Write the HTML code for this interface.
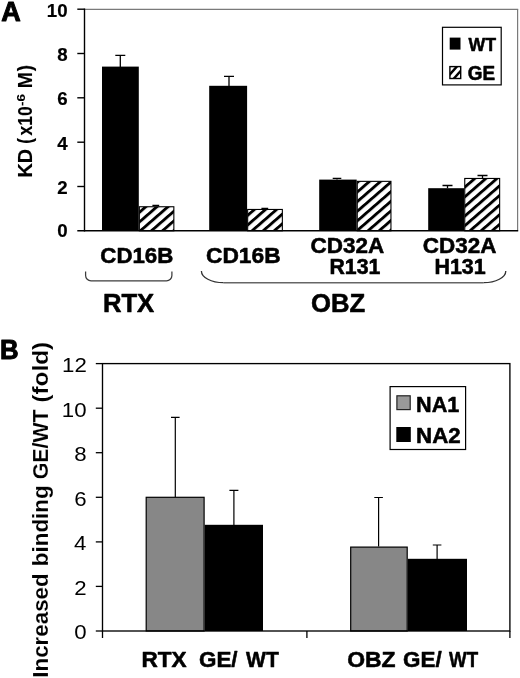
<!DOCTYPE html>
<html>
<head>
<meta charset="utf-8">
<title>Figure</title>
<style>
html,body{margin:0;padding:0;background:#fff;}
body{width:520px;height:678px;overflow:hidden;}
svg{display:block;will-change:transform;}
text{font-family:"Liberation Sans",sans-serif;fill:#000;}
.b{font-weight:bold;stroke:#000;stroke-width:0.55px;stroke-linejoin:round;}
</style>
</head>
<body>
<svg width="520" height="678" viewBox="0 0 520 678">
<rect x="0" y="0" width="520" height="678" fill="#fff"/>

<!-- Panel A -->
<text class="b" style="stroke-width:1px" font-size="27.97" transform="translate(1.22 20.90) scale(0.966 1)" xml:space="preserve">A</text>
<line x1="84.4" y1="9.3" x2="518.2" y2="9.3" stroke="#7a7a7a" stroke-width="1.2"/>
<line x1="517.6" y1="9.3" x2="517.6" y2="230.8" stroke="#7a7a7a" stroke-width="1.2"/>
<rect x="102" y="66.6" width="36.8" height="164.2" fill="#000"/>
<rect x="209.2" y="85.8" width="37.9" height="145.0" fill="#000"/>
<rect x="319.2" y="179.6" width="37.5" height="51.2" fill="#000"/>
<rect x="428.2" y="188.2" width="36.0" height="42.6" fill="#000"/>
<pattern id="h0" patternUnits="userSpaceOnUse" width="20" height="7.268" patternTransform="translate(138.56 211.22) rotate(-41)"><rect width="20" height="7.268" fill="#fff"/><rect width="20" height="2.868" fill="#000"/></pattern>
<rect x="139.35" y="206.75" width="34.50" height="24.05" fill="url(#h0)" stroke="#000" stroke-width="1.1"/>
<pattern id="h1" patternUnits="userSpaceOnUse" width="20" height="7.268" patternTransform="translate(246.96 214.12) rotate(-41)"><rect width="20" height="7.268" fill="#fff"/><rect width="20" height="2.868" fill="#000"/></pattern>
<rect x="247.65" y="209.45" width="34.70" height="21.35" fill="url(#h1)" stroke="#000" stroke-width="1.1"/>
<pattern id="h2" patternUnits="userSpaceOnUse" width="20" height="7.268" patternTransform="translate(356.26 191.02) rotate(-41)"><rect width="20" height="7.268" fill="#fff"/><rect width="20" height="2.868" fill="#000"/></pattern>
<rect x="357.25" y="181.35" width="33.70" height="49.45" fill="url(#h2)" stroke="#000" stroke-width="1.1"/>
<pattern id="h3" patternUnits="userSpaceOnUse" width="20" height="7.268" patternTransform="translate(463.76 186.22) rotate(-41)"><rect width="20" height="7.268" fill="#fff"/><rect width="20" height="2.868" fill="#000"/></pattern>
<rect x="464.75" y="178.45" width="34.90" height="52.35" fill="url(#h3)" stroke="#000" stroke-width="1.1"/>
<g stroke="#000" stroke-width="1.3" fill="none">
<path d="M120.3 67V55.3M115.3 55.3H125.3"/>
<path d="M229 86V76.3M224 76.3H234"/>
<path d="M155.8 206.3V205.5M152.4 205.5H159.20000000000002"/>
<path d="M264.8 209.4V208.3M261.40000000000003 208.3H268.2"/>
<path d="M337 179.6V178.3M332.7 178.3H341.3"/>
<path d="M447.5 188.2V185.5M442.5 185.5H452.5"/>
<path d="M482.5 178.2V175.5M477.5 175.5H487.5"/>
</g>
<line x1="84.5" y1="8.5" x2="84.5" y2="231.5" stroke="#000" stroke-width="1.4"/>
<line x1="77.3" y1="230.8" x2="518.2" y2="230.8" stroke="#000" stroke-width="1.4"/>
<g stroke="#000" stroke-width="1.4">
<line x1="77.3" y1="9.2" x2="84.5" y2="9.2"/>
<line x1="77.3" y1="53.5" x2="84.5" y2="53.5"/>
<line x1="77.3" y1="97.8" x2="84.5" y2="97.8"/>
<line x1="77.3" y1="142.2" x2="84.5" y2="142.2"/>
<line x1="77.3" y1="186.5" x2="84.5" y2="186.5"/>
</g>
<g class="b" font-size="18.7" text-anchor="end" style="stroke-width:0.2px">
<text x="67.6" y="16.7">10</text>
<text x="67.6" y="61.0">8</text>
<text x="67.6" y="105.3">6</text>
<text x="67.6" y="149.7">4</text>
<text x="67.6" y="194.0">2</text>
<text x="67.6" y="237.2">0</text>
</g>
<text class="b" style="stroke-width:0.1px" font-size="19.40" transform="translate(31.50 177.49) rotate(-90) scale(1.023 1.0)" xml:space="preserve">KD</text>
<text class="b" style="stroke-width:0.1px" font-size="19.40" transform="translate(31.50 143.76) rotate(-90) scale(0.884 1.0)" xml:space="preserve">(</text>
<text class="b" style="stroke-width:0.1px" font-size="19.40" transform="translate(31.50 135.48) rotate(-90) scale(0.903 1.0)" xml:space="preserve">x10</text>
<text class="b" style="stroke-width:0.1px" font-size="19.40" transform="translate(31.50 88.26) rotate(-90) scale(1.001 1.0)" xml:space="preserve">M</text>
<text class="b" style="stroke-width:0.1px" font-size="19.40" transform="translate(31.50 71.19) rotate(-90) scale(0.976 1.0)" xml:space="preserve">)</text>
<text class="b" style="stroke-width:0.1px" font-size="11.20" transform="translate(24.50 105.93) rotate(-90) scale(1.183 1.0)" xml:space="preserve">-6</text>
<rect x="442.5" y="27.3" width="58.7" height="57.6" fill="#fff" stroke="#000" stroke-width="1.2"/>
<rect x="449.7" y="37.6" width="10.8" height="12" fill="#000"/>
<clipPath id="sw"><rect x="449.9" y="66.6" width="10.8" height="11.9"/></clipPath>
<rect x="449.9" y="66.6" width="10.8" height="11.9" fill="#fff"/>
<g clip-path="url(#sw)" stroke="#000" stroke-width="2.4"><line x1="447.4" y1="77.2" x2="458.8" y2="64.4"/><line x1="451.8" y1="80.9" x2="463.2" y2="68.1"/></g>
<rect x="449.9" y="66.6" width="10.8" height="11.9" fill="none" stroke="#000" stroke-width="1.4"/>
<text class="b" font-size="18.84" transform="translate(468.50 50.60) scale(0.941 1)" xml:space="preserve">WT</text>
<text class="b" font-size="19.58" transform="translate(467.74 80.10) scale(0.966 1)" xml:space="preserve">GE</text>
<text class="b" font-size="22.11" transform="translate(100.31 262.88) scale(1.008 1)" xml:space="preserve">CD16B</text>
<text class="b" font-size="22.25" transform="translate(205.99 262.98) scale(1.024 1)" xml:space="preserve">CD16B</text>
<text class="b" font-size="21.69" transform="translate(310.60 252.88) scale(1.037 1)" xml:space="preserve">CD32A</text>
<text class="b" font-size="21.41" transform="translate(329.42 273.89) scale(0.995 1)" xml:space="preserve">R131</text>
<text class="b" font-size="21.97" transform="translate(422.80 252.88) scale(1.022 1)" xml:space="preserve">CD32A</text>
<text class="b" font-size="21.55" transform="translate(434.40 273.88) scale(0.997 1)" xml:space="preserve">H131</text>
<text class="b" font-size="25.65" transform="translate(102.93 311.60) scale(1.000 1)" xml:space="preserve">RTX</text>
<text class="b" font-size="26.06" transform="translate(310.97 311.54) scale(0.986 1)" xml:space="preserve">OBZ</text>
<g stroke="#3c3c3c" stroke-width="1.25" fill="none">
<path d="M85.6 271.4V275.4A5.4 5.4 0 0 0 91 280.8H166.5A5.4 5.4 0 0 0 171.9 275.4V271.4"/>
</g>
<g fill="none">
<path d="M223.5 282.7H483.6" stroke="#666" stroke-width="1.5"/>
<path d="M201.4 271A22.1 11.7 0 0 0 223.5 282.7M483.6 282.7A22.2 11.7 0 0 0 505.8 271" stroke="#333" stroke-width="1.3"/>
</g>
<!-- Panel B -->
<text class="b" style="stroke-width:1px" font-size="27.25" transform="translate(-0.07 359.00) scale(0.945 1)" xml:space="preserve">B</text>
<rect x="146.2" y="497.3" width="57.9" height="133.7" fill="#878787" stroke="#000" stroke-width="1.2"/>
<rect x="350.70000000000005" y="547.1" width="56.5" height="83.9" fill="#878787" stroke="#000" stroke-width="1.2"/>
<rect x="204.7" y="524.8" width="58.3" height="106.2" fill="#000"/>
<rect x="407.8" y="558.8" width="59.2" height="72.2" fill="#000"/>
<g stroke="#000" stroke-width="1.2" fill="none">
<path d="M175.3 497V417.3M171.0 417.3H179.60000000000002"/>
<path d="M233.9 525V490.3M229.4 490.3H238.4"/>
<path d="M378.6 546.5V497.5M374.3 497.5H382.90000000000003"/>
<path d="M437.1 559V545M432.8 545H441.40000000000003"/>
</g>
<rect x="102.5" y="363.6" width="407.4" height="267.4" fill="none" stroke="#000" stroke-width="1.35"/>
<g stroke="#000" stroke-width="1.3">
<line x1="95.8" y1="363.6" x2="102.5" y2="363.6"/>
<line x1="95.8" y1="408.2" x2="102.5" y2="408.2"/>
<line x1="95.8" y1="452.7" x2="102.5" y2="452.7"/>
<line x1="95.8" y1="497.3" x2="102.5" y2="497.3"/>
<line x1="95.8" y1="541.9" x2="102.5" y2="541.9"/>
<line x1="95.8" y1="586.4" x2="102.5" y2="586.4"/>
<line x1="95.8" y1="631.0" x2="102.5" y2="631.0"/>
<line x1="102.5" y1="631.0" x2="102.5" y2="638"/>
<line x1="306.9" y1="631.0" x2="306.9" y2="638"/>
<line x1="509.9" y1="631.0" x2="509.9" y2="638"/>
</g>
<text font-size="20.60" transform="translate(62.02 372.00) scale(1.080 1)" xml:space="preserve">12</text>
<text font-size="20.60" transform="translate(61.79 416.57) scale(1.080 1)" xml:space="preserve">10</text>
<text font-size="20.60" transform="translate(74.14 461.13) scale(1.080 1)" xml:space="preserve">8</text>
<text font-size="20.60" transform="translate(74.25 505.70) scale(1.080 1)" xml:space="preserve">6</text>
<text font-size="20.60" transform="translate(73.92 550.27) scale(1.080 1)" xml:space="preserve">4</text>
<text font-size="20.60" transform="translate(74.36 594.83) scale(1.080 1)" xml:space="preserve">2</text>
<text font-size="20.60" transform="translate(74.14 639.40) scale(1.080 1)" xml:space="preserve">0</text>
<text class="b" style="stroke:#fff;stroke-width:0.12px" font-size="21.60" transform="translate(48.20 677.65) rotate(-90) scale(1.034 1.0)" xml:space="preserve">Increased</text>
<text class="b" style="stroke:#fff;stroke-width:0.12px" font-size="21.60" transform="translate(48.20 566.26) rotate(-90) scale(1.040 1.0)" xml:space="preserve">binding</text>
<text class="b" style="stroke:#fff;stroke-width:0.12px" font-size="21.60" transform="translate(48.20 479.25) rotate(-90) scale(0.986 1.0)" xml:space="preserve">GE/WT</text>
<text class="b" style="stroke:#fff;stroke-width:0.12px" font-size="21.60" transform="translate(48.20 402.62) rotate(-90) scale(1.127 1.0)" xml:space="preserve">(fold)</text>
<rect x="390.1" y="386.6" width="75.5" height="62.9" fill="#fff" stroke="#000" stroke-width="1.2"/>
<rect x="396.9" y="395.8" width="13.3" height="13.8" fill="#999" stroke="#222" stroke-width="1.2"/>
<rect x="396.3" y="427" width="14.5" height="15" fill="#000"/>
<text class="b" font-size="22.32" transform="translate(416.09 411.60) scale(0.969 1)" xml:space="preserve">NA1</text>
<text class="b" font-size="22.00" transform="translate(416.05 443.00) scale(1.015 1)" xml:space="preserve">NA2</text>
<text class="b" font-size="22.46" transform="translate(141.43 666.80) scale(1.006 1)" xml:space="preserve">RTX</text>
<text class="b" font-size="21.61" transform="translate(199.00 666.67) scale(1.036 1)" xml:space="preserve">GE/</text>
<text class="b" font-size="22.46" transform="translate(246.00 666.80) scale(0.939 1)" xml:space="preserve">WT</text>
<text class="b" font-size="22.68" transform="translate(347.18 666.87) scale(1.010 1)" xml:space="preserve">OBZ</text>
<text class="b" font-size="21.61" transform="translate(403.10 666.67) scale(1.036 1)" xml:space="preserve">GE/</text>
<text class="b" font-size="22.46" transform="translate(449.00 666.80) scale(0.833 1)" xml:space="preserve">WT</text>
</svg>
</body>
</html>
